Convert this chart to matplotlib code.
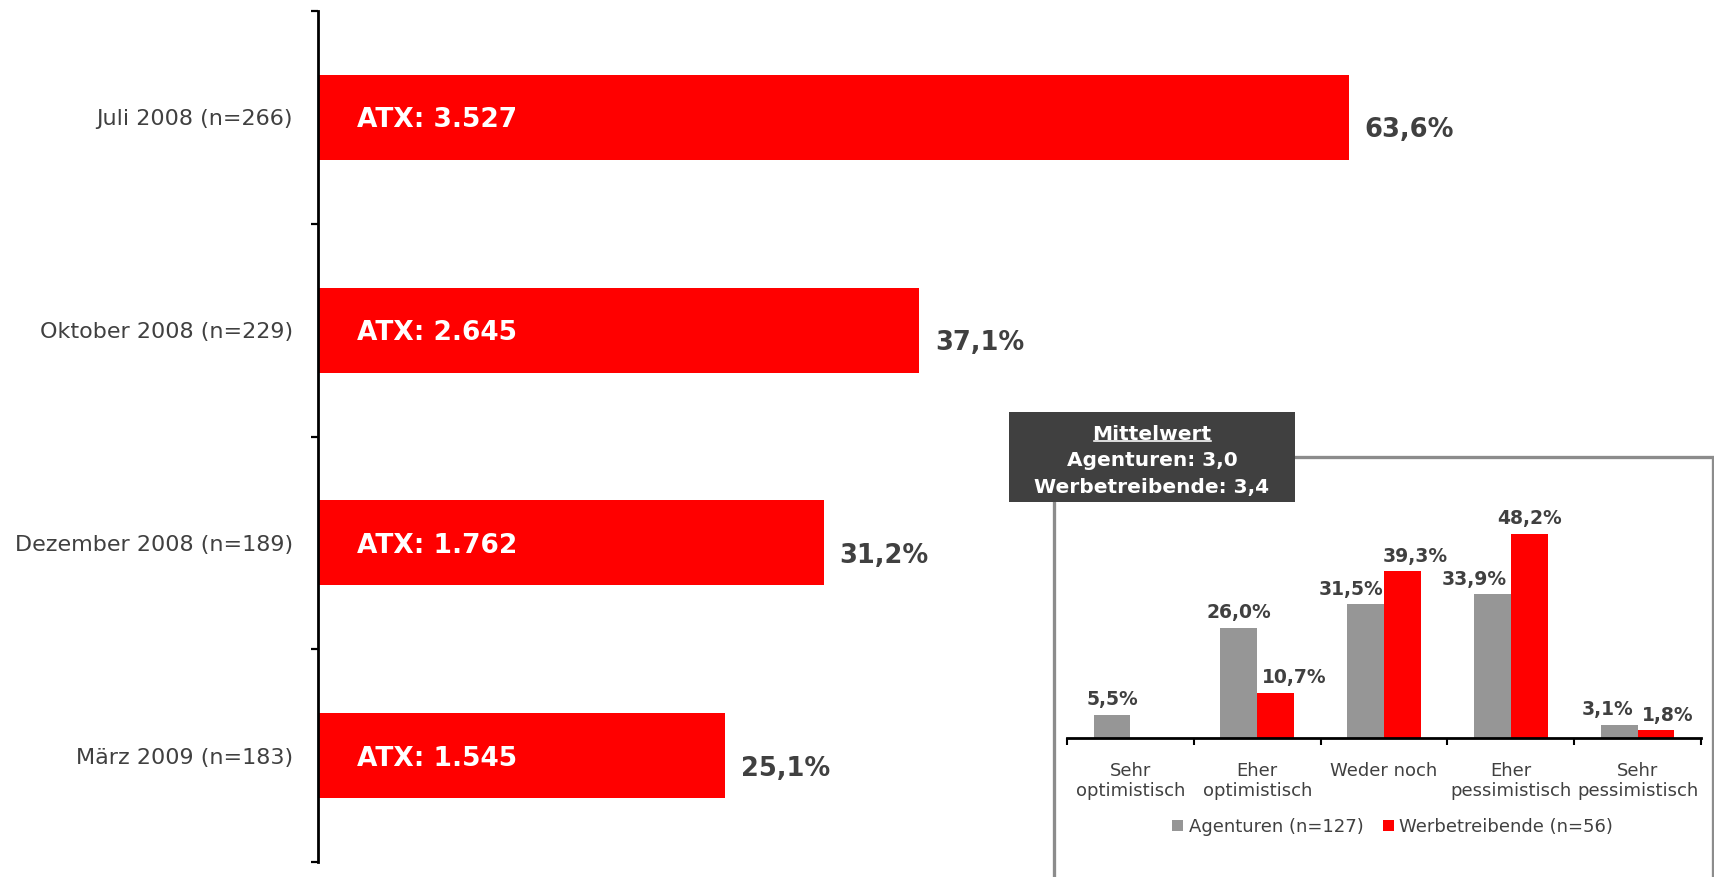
import numpy as np
import matplotlib.pyplot as plt
from matplotlib.patches import Rectangle
from matplotlib.lines import Line2D

plt.rcParams['font.family'] = ['DejaVu Sans']

# -------------------------------
# Data
# -------------------------------
periods = ["Juli 2008 (n=266)", "Oktober 2008 (n=229)",
           "Dezember 2008 (n=189)", "März 2009 (n=183)"]
shares = [63.6, 37.1, 31.2, 25.1]
atx_values = ["3.527", "2.645", "1.762", "1.545"]

moods = ["Sehr\noptimistisch", "Eher\noptimistisch", "Weder noch",
         "Eher\npessimistisch", "Sehr\npessimistisch"]
agenturen = [5.5, 26.0, 31.5, 33.9, 3.1]
werbetreibende = [np.nan, 10.7, 39.3, 48.2, 1.8]
series_names = ["Agenturen (n=127)", "Werbetreibende (n=56)"]
mittelwert = [("Agenturen", "3,0"), ("Werbetreibende", "3,4")]

# -------------------------------
# Style
# -------------------------------
RED = '#ff0000'
GREY = '#969696'
TXT = '#404040'
W, H = 1715, 877
PX = 72 / 100  # points per pixel at dpi 100

# label nudges in pixels (to keep neighbouring labels apart)
dx_agent = [0, 0, -15, -18, -12]
dx_werbe = [0, 19, 13, 0, 12]


def fx(x):
    return x / W


def fy(y):
    return 1 - y / H


def pct(v):
    return f"{v:.1f}%".replace('.', ',')


fig = plt.figure(figsize=(W / 100, H / 100), dpi=100)

# -------------------------------
# Main horizontal bar chart
# -------------------------------
ax = fig.add_axes([fx(318), fy(862), fx(1715) - fx(318), fy(11) - fy(862)])
ypos = np.arange(len(periods))
ax.barh(ypos, shares, height=0.4, color=RED)
ax.set_xlim(0, 86.2)
ax.set_ylim(len(periods) - 0.5, -0.5)

ax.set_yticks(ypos)
ax.set_yticklabels(periods, fontsize=16, color=TXT)
ax.set_yticks(np.arange(-0.5, len(periods)), minor=True)
ax.tick_params(axis='y', which='major', length=0, pad=18)
ax.tick_params(axis='y', which='minor', length=5, width=1.6, color='black')
ax.set_xticks([])
for s in ['top', 'right', 'bottom']:
    ax.spines[s].set_visible(False)
ax.spines['left'].set_linewidth(2.0)

for i, (v, a) in enumerate(zip(shares, atx_values)):
    ax.annotate("ATX: " + a, xy=(0, i), xytext=(39 * PX, 0),
                textcoords='offset points', ha='left', va='center_baseline',
                color='white', fontsize=19, fontweight='bold')
    ax.annotate(pct(v), xy=(v, i), xytext=(16 * PX, -10 * PX),
                textcoords='offset points', ha='left', va='center_baseline',
                color=TXT, fontsize=18.5, fontweight='bold')

# -------------------------------
# Inset: grey frame and "Mittelwert" box
# -------------------------------
fig.add_artist(Rectangle((fx(1054), fy(920)), fx(1713) - fx(1054), fy(457) - fy(920),
                         transform=fig.transFigure, fill=False,
                         edgecolor='#8c8c8c', lw=3.3 * PX, zorder=1))
fig.add_artist(Rectangle((fx(1009), fy(502)), fx(1295) - fx(1009), fy(412) - fy(502),
                         transform=fig.transFigure, facecolor='#404040',
                         edgecolor='none', zorder=2))
t_head = fig.text(fx(1152), fy(433), "Mittelwert", ha='center', va='center_baseline',
                  color='white', fontsize=14.5, fontweight='bold', zorder=3)
for k, (name, val) in enumerate(mittelwert):
    fig.text(fx(1152), fy(459 + 26 * k), f"{name}: {val}", ha='center',
             va='center_baseline', color='white', fontsize=14.5,
             fontweight='bold', zorder=3)

# -------------------------------
# Inset bar chart
# -------------------------------
ax2 = fig.add_axes([fx(1067), fy(738), fx(1701) - fx(1067), 233.2 / H])
x = np.arange(len(moods))
bw = 0.29
b1 = ax2.bar(x - bw / 2, agenturen, bw, color=GREY)
b2 = ax2.bar(x + bw / 2, werbetreibende, bw, color=RED)
ax2.set_xlim(-0.5, len(moods) - 0.5)
ax2.set_ylim(0, 55)

for xs, vals, dxs in [(x - bw / 2, agenturen, dx_agent), (x + bw / 2, werbetreibende, dx_werbe)]:
    for xi, v, d in zip(xs, vals, dxs):
        if np.isnan(v):
            continue
        ax2.annotate(pct(v), xy=(xi, v), xytext=(d * PX, 17 * PX),
                     textcoords='offset points', ha='center', va='center_baseline',
                     color=TXT, fontsize=13.5, fontweight='bold')

ax2.set_xticks(x)
ax2.set_xticklabels(moods, fontsize=13, color=TXT)
ax2.set_xticks(np.arange(-0.5, len(moods)), minor=True)
ax2.tick_params(axis='x', which='major', length=0, pad=17)
ax2.tick_params(axis='x', which='minor', length=5, width=1.5, color='black')
ax2.set_yticks([])
for s in ['top', 'right', 'left']:
    ax2.spines[s].set_visible(False)
ax2.spines['bottom'].set_linewidth(2.0)
ax2.patch.set_visible(False)

leg = ax2.legend([b1, b2], series_names, loc='center', bbox_to_anchor=(0.514, -0.382),
                 ncol=2, frameon=False, fontsize=13, handlelength=0.6,
                 handleheight=0.6, handletextpad=0.3, columnspacing=1.1)
for t in leg.get_texts():
    t.set_color(TXT)

# underline for "Mittelwert"
fig.canvas.draw()
bb = t_head.get_window_extent()
fig.add_artist(Line2D([(bb.x0 + 2) / W, (bb.x1 - 1) / W], [(bb.y0 + 3.5) / H] * 2,
                      transform=fig.transFigure, color='white', lw=1.6 * PX, zorder=3))

fig.savefig("out.png", dpi=100)
